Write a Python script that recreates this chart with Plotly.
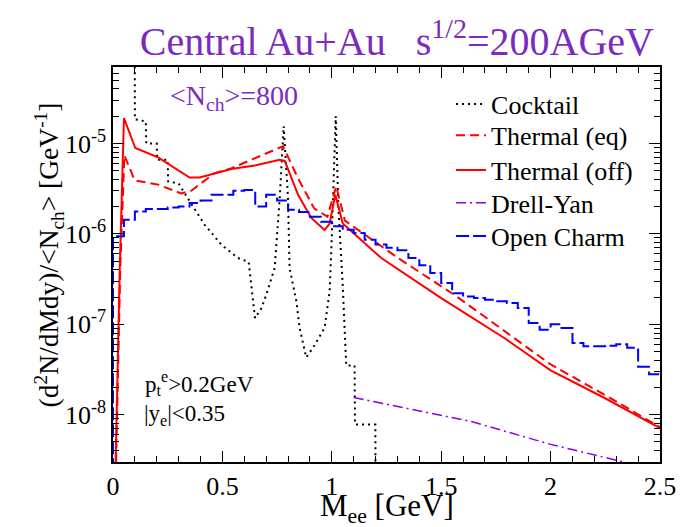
import plotly.graph_objects as go

# ---------------- data ----------------
cocktail_x = [0.0, 0.099, 0.1, 0.15, 0.152, 0.2, 0.202, 0.25, 0.252, 0.3, 0.35, 0.419, 0.495,
              0.571, 0.62, 0.649, 0.678, 0.70, 0.739, 0.762, 0.78, 0.80, 0.807, 0.838, 0.853,
              0.883, 0.914, 0.967, 0.99, 0.998, 1.018, 1.03, 1.05, 1.066, 1.104, 1.106, 1.199, 1.2]
cocktail_y = [3e-4, 3e-4, 1.85e-5, 1.75e-5, 1.0e-5, 1.0e-5, 6.6e-6, 6.6e-6, 3.8e-6, 3.6e-6,
              2.3e-6, 1.26e-6, 7.6e-7, 5.4e-7, 4.9e-7, 1.17e-7, 1.5e-7, 2.1e-7, 4.2e-7, 2.5e-6,
              1.55e-5, 2.5e-6, 4.2e-7, 1.8e-7, 9.1e-8, 4.3e-8, 5.5e-8, 9.1e-8, 2.3e-7, 6.9e-7,
              2.0e-5, 2.0e-6, 2.7e-7, 3.5e-8, 3.5e-8, 7.8e-9, 7.8e-9, 1e-9]

thermal_eq_x = [0.014, 0.033, 0.052, 0.099, 0.206, 0.312, 0.358, 0.465, 0.54, 0.648, 0.777,
                0.846, 0.92, 0.98, 1.02, 1.06, 1.303, 1.562, 2.0, 2.247, 2.5]
thermal_eq_y = [3e-9, 4e-7, 7.4e-6, 3.9e-6, 3.5e-6, 2.8e-6, 3.0e-6, 4.7e-6, 5.3e-6, 6.9e-6,
                9.3e-6, 4.1e-6, 1.9e-6, 1.55e-6, 3.35e-6, 1.4e-6, 5.4e-7, 2.1e-7, 3.6e-8,
                1.66e-8, 7.3e-9]

thermal_off_x = [0.012, 0.031, 0.05, 0.102, 0.206, 0.35, 0.396, 0.54, 0.648, 0.762, 0.785,
                 0.846, 0.906, 0.967, 0.99, 1.016, 1.05, 1.226, 1.5, 1.79, 2.0, 2.247, 2.5]
thermal_off_y = [3e-9, 4.2e-7, 1.9e-5, 8.9e-6, 7.0e-6, 4.2e-6, 4.2e-6, 5.2e-6, 5.7e-6, 6.6e-6,
                 6.4e-6, 2.7e-6, 1.5e-6, 1.1e-6, 1.3e-6, 2.7e-6, 1.3e-6, 5.4e-7, 1.95e-7,
                 7.0e-8, 3.1e-8, 1.53e-8, 7.1e-9]

drell_yan_x = [1.1, 1.638, 2.0, 2.339, 2.5]
drell_yan_y = [1.55e-8, 8.4e-9, 4.7e-9, 3.0e-9, 2.4e-9]

charm_bin_width = 0.05
charm_y = [9.4e-7, 1.43e-6, 1.77e-6, 1.88e-6, 1.88e-6, 1.96e-6, 2.0e-6, 2.19e-6, 2.33e-6, 2.71e-6,
           2.71e-6, 3.0e-6, 3.05e-6, 2.01e-6, 2.71e-6, 2.33e-6, 1.85e-6, 1.74e-6, 1.55e-6, 1.36e-6,
           1.21e-6, 1.11e-6, 1.02e-6, 8.6e-7, 7.6e-7, 7.0e-7, 6.6e-7, 5.4e-7, 4.5e-7, 3.7e-7,
           2.86e-7, 2.2e-7, 2.03e-7, 1.95e-7, 1.87e-7, 1.8e-7, 1.72e-7, 1.51e-7, 1.03e-7, 8.7e-8,
           1.0e-7, 9.1e-8, 6.2e-8, 5.7e-8, 5.7e-8, 5.8e-8, 6.0e-8, 5.5e-8, 3.4e-8, 2.8e-8]

series_names = ["Cocktail", "Thermal (eq)", "Thermal (off)", "Drell-Yan", "Open Charm"]

y_tick_vals = [1e-8, 1e-7, 1e-6, 1e-5]
y_tick_text = ["10<sup>-8</sup>", "10<sup>-7</sup>", "10<sup>-6</sup>", "10<sup>-5</sup>"]

x_range = [0, 2.5]
y_range_log = [-8.523, -4.155]

# histogram steps for open charm
charm_x = [0.0] + [i * charm_bin_width for i in range(len(charm_y))] + [len(charm_y) * charm_bin_width]
charm_yy = [1e-9] + charm_y + [charm_y[-1]]

SERIF = "Liberation Serif, Times New Roman, serif"
PURPLE_TXT = "#7b2cbf"
PURPLE_LINE = "#9000dd"

legend_ids = ["legend", "legend2", "legend3", "legend4", "legend5"]

fig = go.Figure()
fig.add_trace(go.Scatter(x=cocktail_x, y=cocktail_y, mode="lines", name=series_names[0],
                         legend=legend_ids[0], showlegend=True,
                         line=dict(color="black", width=2, dash="2px,4px")))
fig.add_trace(go.Scatter(x=thermal_eq_x, y=thermal_eq_y, mode="lines", name=series_names[1],
                         legend=legend_ids[1], showlegend=True,
                         line=dict(color="#ff0000", width=2, dash="9px,5px")))
fig.add_trace(go.Scatter(x=thermal_off_x, y=thermal_off_y, mode="lines", name=series_names[2],
                         legend=legend_ids[2], showlegend=True,
                         line=dict(color="#ff0000", width=2)))
fig.add_trace(go.Scatter(x=drell_yan_x, y=drell_yan_y, mode="lines", name=series_names[3],
                         legend=legend_ids[3], showlegend=True,
                         line=dict(color=PURPLE_LINE, width=1.5, dash="10px,4px,2px,4px")))
fig.add_trace(go.Scatter(x=charm_x, y=charm_yy, mode="lines", name=series_names[4], line_shape="hv",
                         legend=legend_ids[4], showlegend=True,
                         line=dict(color="#0000ff", width=2, dash="13px,4px")))

axis_common = dict(showline=True, linecolor="black", linewidth=1.5, mirror="allticks",
                   ticks="inside", tickcolor="black", tickwidth=1.2, showgrid=False,
                   zeroline=False, tickfont=dict(family=SERIF, size=26, color="black"))

fig.update_xaxes(range=x_range, dtick=0.5, tick0=0, ticklen=11,
                 minor=dict(ticks="inside", dtick=0.1, ticklen=6, tickcolor="black", showgrid=False),
                 **axis_common)
fig.update_yaxes(type="log", range=y_range_log, tickmode="array", tickvals=y_tick_vals,
                 ticktext=y_tick_text, ticklen=11,
                 minor=dict(ticks="inside", dtick="D1", ticklen=6, tickcolor="black", showgrid=False),
                 **axis_common)

legend_rows = [0.906, 0.827, 0.739, 0.656, 0.572]
legend_style = dict(x=0.618, xanchor="left", yanchor="middle", bgcolor="rgba(0,0,0,0)",
                    font=dict(family=SERIF, size=26, color="black"), itemwidth=30)
layout_legends = {lid: dict(y=ly, **legend_style) for lid, ly in zip(legend_ids, legend_rows)}

fig.update_layout(
    width=687, height=527, showlegend=True,
    margin=dict(l=105, r=35, t=59, b=73, autoexpand=False),
    paper_bgcolor="white", plot_bgcolor="white",
    title=dict(text="Central Au+Au\u00a0\u00a0\u00a0s<sup>1/2</sup>=200AGeV",
               font=dict(family=SERIF, size=40, color=PURPLE_TXT),
               xref="paper", x=0.989, xanchor="right", yref="container", y=0.937, yanchor="middle"),
    annotations=[
        dict(text="M<sub>ee</sub> [GeV]", xref="paper", yref="paper", x=0.5, y=-0.117,
             xanchor="center", yanchor="middle", showarrow=False,
             font=dict(family=SERIF, size=31, color="black")),
        dict(text="(d<sup>2</sup>N/dMdy)/&lt;N<sub>ch</sub>&gt; [GeV<sup>-1</sup>]",
             xref="paper", yref="paper", x=-0.117, y=0.523, textangle=-90,
             xanchor="center", yanchor="middle", showarrow=False,
             font=dict(family=SERIF, size=27.5, color="black")),
        dict(text="&lt;N<sub>ch</sub>&gt;=800", xref="paper", yref="paper", x=0.1, y=0.922,
             xanchor="left", yanchor="middle", showarrow=False,
             font=dict(family=SERIF, size=28, color=PURPLE_TXT)),
        dict(text="p<sub>t</sub><sup>e</sup>&gt;0.2GeV", xref="paper", yref="paper", x=0.055, y=0.2,
             xanchor="left", yanchor="middle", showarrow=False,
             font=dict(family=SERIF, size=23, color="black")),
        dict(text="|y<sub>e</sub>|&lt;0.35", xref="paper", yref="paper", x=0.053, y=0.12,
             xanchor="left", yanchor="middle", showarrow=False,
             font=dict(family=SERIF, size=23, color="black")),
    ],
    **layout_legends,
)

fig.write_html("out.html")
